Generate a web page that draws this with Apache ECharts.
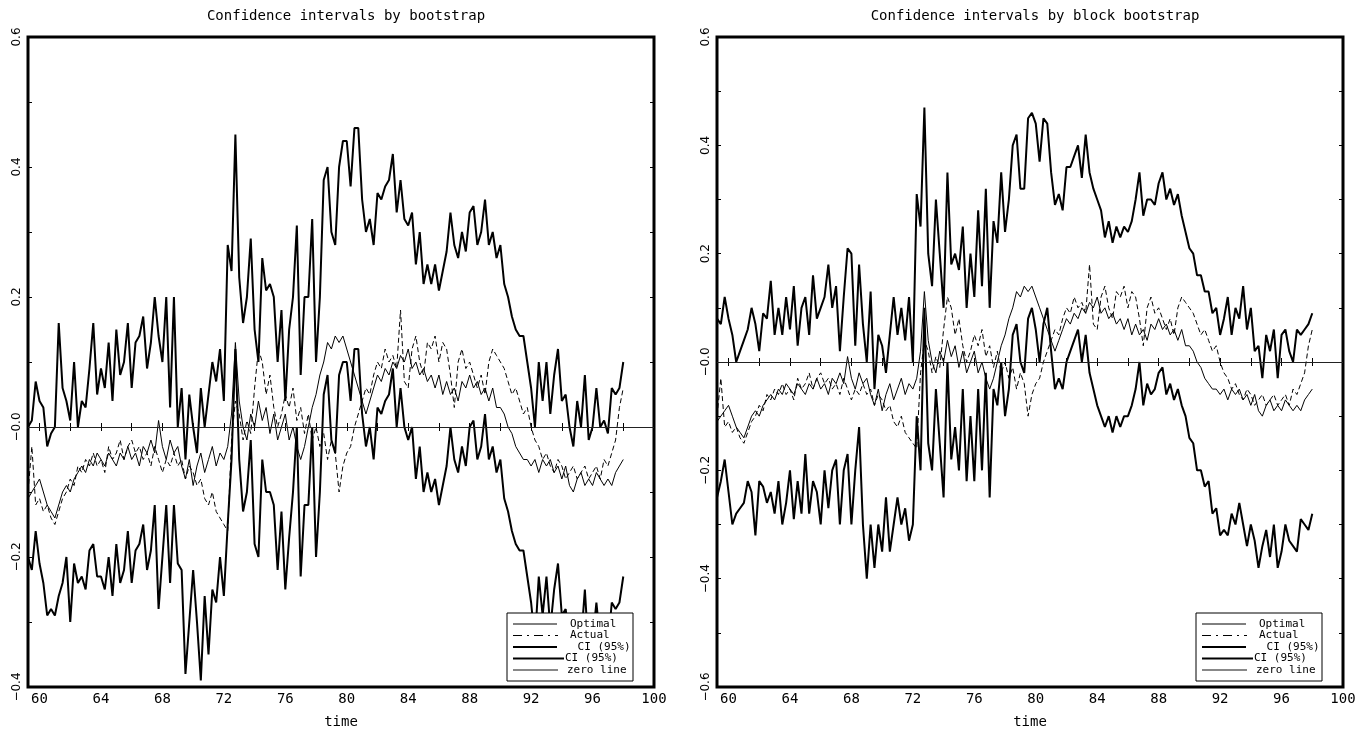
<!DOCTYPE html>
<html>
<head>
<meta charset="utf-8">
<script src="https://cdn.jsdelivr.net/npm/echarts@6/dist/echarts.min.js"></script>
<style>
html,body{margin:0;padding:0;background:#fff;}
#chart{width:1366px;height:734px;}
</style>
</head>
<body>
<div id="chart"></div>
<script>
// ---- data (quarterly, first quarter 59.25) ----
const startYear = 59.25;
const quarterStep = 0.25;
const xLabelValues = [60, 64, 68, 72, 76, 80, 84, 88, 92, 96, 100];
const xTickValues = [60, 62, 64, 66, 68, 70, 72, 74, 76, 78, 80, 82, 84, 86, 88, 90, 92, 94, 96, 98, 100];
const yLabelsLeft = [-0.4, -0.2, 0, 0.2, 0.4, 0.6];
const yTicksLeft = [-0.4, -0.3, -0.2, -0.1, 0, 0.1, 0.2, 0.3, 0.4, 0.5, 0.6];
const yLabelsRight = [-0.6, -0.4, -0.2, 0, 0.2, 0.4, 0.6];
const yTicksRight = [-0.6, -0.5, -0.4, -0.3, -0.2, -0.1, 0, 0.1, 0.2, 0.3, 0.4, 0.5, 0.6];
const titles = ['Confidence intervals by bootstrap', 'Confidence intervals by block bootstrap'];
const legendNames = ['Optimal', 'Actual', ' CI (95%)', 'CI (95%)', 'zero line'];

const optimal = [
 -0.11,-0.10,-0.09,
 -0.08,-0.10,-0.12,-0.13,
 -0.14,-0.12,-0.10,-0.09,
 -0.10,-0.08,-0.07,-0.06,
 -0.07,-0.05,-0.06,-0.04,
 -0.05,-0.06,-0.04,-0.05,
 -0.06,-0.04,-0.05,-0.03,
 -0.05,-0.04,-0.06,-0.03,
 -0.04,-0.02,-0.04,0.01,
 -0.03,-0.05,-0.02,-0.04,
 -0.03,-0.06,-0.08,-0.05,
 -0.09,-0.06,-0.04,-0.07,
 -0.05,-0.03,-0.06,-0.04,
 -0.05,-0.03,0.02,0.13,
 0.04,0.00,-0.02,0.02,
 0.00,0.04,0.01,0.03,
 -0.01,0.02,-0.02,0.00,
 0.02,-0.02,0.00,-0.03,
 -0.05,-0.03,0.00,0.03,
 0.05,0.08,0.10,0.13,
 0.12,0.14,0.13,0.14,
 0.12,0.10,0.08,0.06,
 0.04,0.02,0.04,0.06,
 0.08,0.07,0.09,0.08,
 0.10,0.09,0.11,0.10,
 0.12,0.09,0.10,0.08,
 0.09,0.07,0.08,0.06,
 0.08,0.05,0.07,0.05,
 0.06,0.04,0.07,0.06,
 0.08,0.06,0.07,0.05,
 0.06,0.04,0.06,0.03,
 0.03,0.02,0.00,-0.01,
 -0.03,-0.04,-0.05,-0.05,
 -0.06,-0.05,-0.07,-0.05,
 -0.06,-0.05,-0.07,-0.06,
 -0.08,-0.06,-0.09,-0.10,
 -0.08,-0.07,-0.09,-0.08,
 -0.09,-0.07,-0.08,-0.09,
 -0.08,-0.09,-0.07,-0.06,
 -0.05
];

const actual = [
 -0.10,-0.03,-0.12,
 -0.11,-0.13,-0.12,-0.14,
 -0.15,-0.13,-0.11,-0.10,
 -0.08,-0.09,-0.06,-0.07,
 -0.05,-0.06,-0.04,-0.06,
 -0.05,-0.07,-0.03,-0.05,
 -0.04,-0.02,-0.05,-0.03,
 -0.02,-0.04,-0.03,-0.05,
 -0.04,-0.06,-0.03,-0.05,
 -0.07,-0.05,-0.06,-0.04,
 -0.06,-0.05,-0.08,-0.06,
 -0.07,-0.09,-0.08,-0.11,
 -0.12,-0.10,-0.13,-0.14,
 -0.15,-0.16,-0.02,0.04,
 0.02,-0.02,0.01,-0.01,
 0.06,0.12,0.10,0.05,
 0.08,0.03,0.00,0.02,
 0.05,0.03,0.06,0.01,
 0.03,-0.01,0.02,-0.02,
 0.00,-0.03,-0.01,-0.05,
 -0.02,-0.04,-0.10,-0.06,
 -0.04,-0.03,0.00,0.02,
 0.04,0.06,0.05,0.08,
 0.10,0.09,0.12,0.10,
 0.11,0.09,0.18,0.07,
 0.06,0.12,0.14,0.10,
 0.08,0.13,0.12,0.14,
 0.10,0.13,0.12,0.08,
 0.03,0.10,0.12,0.09,
 0.10,0.08,0.06,0.08,
 0.05,0.10,0.12,0.11,
 0.10,0.09,0.07,0.05,
 0.06,0.04,0.02,0.03,
 0.00,-0.02,-0.03,-0.05,
 -0.04,-0.06,-0.07,-0.05,
 -0.06,-0.08,-0.07,-0.06,
 -0.08,-0.07,-0.06,-0.08,
 -0.07,-0.06,-0.08,-0.05,
 -0.06,-0.04,-0.02,0.03,
 0.06
];

const upperBoot = [
 0.00,0.01,0.07,
 0.04,0.03,-0.03,-0.01,
 0.00,0.16,0.06,0.04,
 0.01,0.10,0.00,0.04,
 0.03,0.09,0.16,0.05,
 0.09,0.06,0.13,0.04,
 0.15,0.08,0.10,0.16,
 0.06,0.13,0.14,0.17,
 0.09,0.13,0.20,0.14,
 0.10,0.20,0.03,0.20,
 0.00,0.06,-0.05,0.05,
 0.00,-0.04,0.06,0.00,
 0.05,0.10,0.07,0.12,
 0.04,0.28,0.24,0.45,
 0.23,0.16,0.20,0.29,
 0.15,0.10,0.26,0.21,
 0.22,0.20,0.10,0.18,
 0.04,0.15,0.20,0.31,
 0.08,0.20,0.20,0.32,
 0.10,0.20,0.38,0.40,
 0.30,0.28,0.40,0.44,
 0.44,0.37,0.46,0.46,
 0.35,0.30,0.32,0.28,
 0.36,0.35,0.37,0.38,
 0.42,0.33,0.38,0.32,
 0.31,0.33,0.25,0.30,
 0.22,0.25,0.22,0.25,
 0.21,0.24,0.27,0.33,
 0.28,0.26,0.30,0.27,
 0.33,0.34,0.28,0.30,
 0.35,0.28,0.30,0.26,
 0.28,0.22,0.20,0.17,
 0.15,0.14,0.14,0.10,
 0.06,0.00,0.10,0.04,
 0.10,0.02,0.08,0.12,
 0.04,0.05,0.00,-0.03,
 0.04,0.00,0.08,-0.02,
 0.00,0.06,0.00,0.01,
 -0.01,0.06,0.05,0.06,
 0.10
];

const lowerBoot = [
 -0.20,-0.22,-0.16,
 -0.21,-0.24,-0.29,-0.28,
 -0.29,-0.26,-0.24,-0.20,
 -0.30,-0.21,-0.24,-0.23,
 -0.25,-0.19,-0.18,-0.23,
 -0.23,-0.25,-0.20,-0.26,
 -0.18,-0.24,-0.22,-0.16,
 -0.24,-0.19,-0.18,-0.15,
 -0.22,-0.19,-0.12,-0.28,
 -0.20,-0.12,-0.24,-0.12,
 -0.21,-0.22,-0.38,-0.30,
 -0.22,-0.30,-0.39,-0.26,
 -0.35,-0.25,-0.27,-0.20,
 -0.26,-0.15,-0.05,0.12,
 -0.05,-0.13,-0.10,-0.02,
 -0.18,-0.20,-0.05,-0.10,
 -0.10,-0.12,-0.22,-0.13,
 -0.25,-0.17,-0.10,0.00,
 -0.23,-0.12,-0.12,0.00,
 -0.20,-0.10,0.05,0.08,
 -0.02,-0.04,0.08,0.10,
 0.10,0.04,0.12,0.12,
 0.02,-0.03,0.00,-0.05,
 0.03,0.02,0.04,0.05,
 0.09,0.00,0.06,0.00,
 -0.02,0.00,-0.08,-0.03,
 -0.10,-0.07,-0.10,-0.08,
 -0.12,-0.09,-0.06,0.00,
 -0.05,-0.07,-0.03,-0.06,
 0.00,0.01,-0.05,-0.03,
 0.02,-0.05,-0.03,-0.07,
 -0.05,-0.11,-0.13,-0.16,
 -0.18,-0.19,-0.19,-0.23,
 -0.27,-0.33,-0.23,-0.29,
 -0.23,-0.31,-0.25,-0.21,
 -0.29,-0.28,-0.33,-0.36,
 -0.29,-0.33,-0.25,-0.35,
 -0.33,-0.27,-0.33,-0.32,
 -0.34,-0.27,-0.28,-0.27,
 -0.23
];

const upperBlock = [
 0.08,0.07,0.12,
 0.08,0.05,0.00,0.02,
 0.04,0.06,0.10,0.07,
 0.02,0.09,0.08,0.15,
 0.05,0.10,0.05,0.12,
 0.06,0.14,0.03,0.10,
 0.12,0.05,0.16,0.08,
 0.10,0.12,0.18,0.10,
 0.14,0.02,0.12,0.21,
 0.20,0.03,0.18,0.07,
 0.00,0.13,-0.05,0.05,
 0.03,-0.02,0.05,0.12,
 0.05,0.10,0.04,0.12,
 0.00,0.31,0.25,0.47,
 0.20,0.14,0.30,0.20,
 0.10,0.35,0.18,0.20,
 0.17,0.25,0.10,0.20,
 0.12,0.28,0.14,0.32,
 0.10,0.26,0.22,0.35,
 0.24,0.30,0.40,0.42,
 0.32,0.32,0.45,0.46,
 0.44,0.37,0.45,0.44,
 0.35,0.29,0.31,0.28,
 0.36,0.36,0.38,0.40,
 0.34,0.42,0.35,0.32,
 0.30,0.28,0.23,0.26,
 0.22,0.25,0.23,0.25,
 0.24,0.26,0.30,0.35,
 0.27,0.30,0.30,0.29,
 0.33,0.35,0.30,0.32,
 0.29,0.31,0.27,0.24,
 0.21,0.20,0.16,0.16,
 0.13,0.13,0.09,0.10,
 0.05,0.08,0.12,0.05,
 0.10,0.08,0.14,0.06,
 0.10,0.02,0.03,-0.03,
 0.05,0.02,0.06,-0.03,
 0.05,0.06,0.02,0.00,
 0.06,0.05,0.06,0.07,
 0.09
];

const lowerBlock = [
 -0.25,-0.22,-0.18,
 -0.24,-0.30,-0.28,-0.27,
 -0.26,-0.22,-0.24,-0.32,
 -0.22,-0.23,-0.26,-0.24,
 -0.28,-0.22,-0.30,-0.26,
 -0.20,-0.29,-0.22,-0.28,
 -0.17,-0.28,-0.22,-0.24,
 -0.30,-0.20,-0.27,-0.20,
 -0.18,-0.30,-0.20,-0.17,
 -0.30,-0.20,-0.12,-0.30,
 -0.40,-0.30,-0.38,-0.30,
 -0.35,-0.25,-0.35,-0.30,
 -0.25,-0.30,-0.27,-0.33,
 -0.30,-0.10,-0.20,0.10,
 -0.15,-0.20,-0.05,-0.15,
 -0.25,0.00,-0.18,-0.12,
 -0.20,-0.05,-0.22,-0.10,
 -0.22,-0.05,-0.20,-0.02,
 -0.25,-0.05,-0.08,0.00,
 -0.10,-0.05,0.05,0.07,
 0.00,-0.02,0.08,0.10,
 0.06,0.00,0.07,0.10,
 0.02,-0.05,-0.03,-0.05,
 0.00,0.02,0.04,0.06,
 0.00,0.05,-0.02,-0.05,
 -0.08,-0.10,-0.12,-0.10,
 -0.13,-0.10,-0.12,-0.10,
 -0.10,-0.08,-0.05,0.00,
 -0.08,-0.04,-0.06,-0.05,
 -0.02,-0.01,-0.06,-0.04,
 -0.07,-0.05,-0.08,-0.10,
 -0.14,-0.15,-0.20,-0.20,
 -0.23,-0.22,-0.28,-0.27,
 -0.32,-0.31,-0.32,-0.28,
 -0.30,-0.26,-0.30,-0.34,
 -0.30,-0.33,-0.38,-0.34,
 -0.31,-0.36,-0.30,-0.38,
 -0.35,-0.30,-0.33,-0.34,
 -0.35,-0.29,-0.30,-0.31,
 -0.28
];

// ---- layout ----
const MONO = 'DejaVu Sans Mono';
const SANS = 'DejaVu Sans';
const panels = [
  { left: 28, top: 37, width: 626, height: 656, ymin: -0.4, ymax: 0.6, yLabels: yLabelsLeft, yTicks: yTicksLeft, upper: upperBoot, lower: lowerBoot, legendX: 507 },
  { left: 717, top: 37, width: 626, height: 656, ymin: -0.6, ymax: 0.6, yLabels: yLabelsRight, yTicks: yTicksRight, upper: upperBlock, lower: lowerBlock, legendX: 1196 }
];
const legendY = 613;

function pairs(arr) {
  return arr.map((v, i) => [startYear + i * quarterStep, v]);
}
function yFmt(v) {
  if (Math.abs(v) < 1e-9) return '\u22120.0';
  return v < 0 ? '\u2212' + Math.abs(v).toFixed(1) : v.toFixed(1);
}

const grids = [], xAxes = [], yAxes = [], series = [], titleArr = [], graphics = [];

panels.forEach((p, k) => {
  grids.push({ left: p.left, top: p.top, width: p.width, height: p.height, show: true, borderColor: '#000', borderWidth: 3, backgroundColor: 'transparent' });
  const tickStyle = { color: '#000', width: 1 };
  xAxes.push({
    type: 'value', gridIndex: k, min: startYear, max: 100, position: 'bottom',
    name: 'time', nameLocation: 'middle', nameGap: 28,
    nameTextStyle: { fontFamily: MONO, fontSize: 14, color: '#000' },
    axisLine: { show: false }, splitLine: { show: false },
    axisTick: { show: true, inside: true, length: 4, customValues: xTickValues, lineStyle: tickStyle },
    axisLabel: { show: true, customValues: xLabelValues, margin: 5, fontFamily: MONO, fontSize: 14, color: '#000' }
  }, {
    type: 'value', gridIndex: k, min: startYear, max: 100, position: 'top',
    axisLine: { show: false }, splitLine: { show: false },
    axisTick: { show: true, inside: true, length: 4, customValues: xTickValues, lineStyle: tickStyle },
    axisLabel: { show: false }
  });
  yAxes.push({
    type: 'value', gridIndex: k, min: p.ymin, max: p.ymax, position: 'left',
    axisLine: { show: false }, splitLine: { show: false },
    axisTick: { show: true, inside: true, length: 4, customValues: p.yTicks, lineStyle: tickStyle },
    axisLabel: { show: true, customValues: p.yLabels, rotate: 90, margin: 5, fontFamily: SANS, fontSize: 12, color: '#000', formatter: yFmt }
  }, {
    type: 'value', gridIndex: k, min: p.ymin, max: p.ymax, position: 'right',
    axisLine: { show: false }, splitLine: { show: false },
    axisTick: { show: true, inside: true, length: 4, customValues: p.yTicks, lineStyle: tickStyle },
    axisLabel: { show: false }
  });
  const xi = 2 * k, yi = 2 * k;

  const base = { type: 'line', xAxisIndex: xi, yAxisIndex: yi, showSymbol: false, symbol: 'none', silent: true, animation: false };
  series.push(Object.assign({}, base, {
    name: 'Optimal', data: pairs(optimal), lineStyle: { color: '#000', width: 1 }, z: 3,
    markLine: { silent: true, symbol: 'none', label: { show: false }, animation: false,
      lineStyle: { color: '#222', width: 1, type: 'solid' }, data: [{ yAxis: 0 }] }
  }));
  series.push(Object.assign({}, base, { name: 'Actual', data: pairs(actual), lineStyle: { color: '#000', width: 1, type: [5, 3] }, z: 3 }));
  series.push(Object.assign({}, base, { name: 'CI upper', data: pairs(p.upper), lineStyle: { color: '#000', width: 2 }, z: 4 }));
  series.push(Object.assign({}, base, { name: 'CI lower', data: pairs(p.lower), lineStyle: { color: '#000', width: 2 }, z: 4 }));

  titleArr.push({ text: titles[k], left: p.left + p.width / 2, top: 4, textAlign: 'center',
    textStyle: { fontFamily: MONO, fontSize: 14, fontWeight: 'normal', color: '#000' } });

  // legend box
  const lx = p.legendX, ly = legendY;
  graphics.push({ type: 'rect', z: 100, shape: { x: lx, y: ly, width: 126, height: 68 },
    style: { fill: '#fff', stroke: '#000', lineWidth: 1 } });
  const rows = [11, 22.5, 34, 45.5, 57];
  const sampleStyles = [
    { stroke: '#000', lineWidth: 1 },
    { stroke: '#000', lineWidth: 1, lineDash: [9, 5, 2, 5] },
    { stroke: '#000', lineWidth: 2 },
    { stroke: '#000', lineWidth: 2 },
    { stroke: '#888', lineWidth: 2 }
  ];
  const sampleEnds = [50, 51, 50, 57, 51];
  const textX = [63, 63, 64, 58, 60];
  rows.forEach((ry, r) => {
    graphics.push({ type: 'line', z: 101, shape: { x1: lx + 6, y1: ly + ry, x2: lx + sampleEnds[r], y2: ly + ry }, style: sampleStyles[r] });
    graphics.push({ type: 'text', z: 101, x: lx + textX[r], y: ly + ry,
      style: { text: legendNames[r], font: '11px "' + MONO + '"', fill: '#000', verticalAlign: 'middle' } });
  });
});

const chart = echarts.init(document.getElementById('chart'), null, { renderer: 'canvas' });
chart.setOption({
  animation: false,
  backgroundColor: '#fff',
  title: titleArr,
  grid: grids,
  xAxis: xAxes,
  yAxis: yAxes,
  series: series,
  graphic: graphics
});
</script>
</body>
</html>
